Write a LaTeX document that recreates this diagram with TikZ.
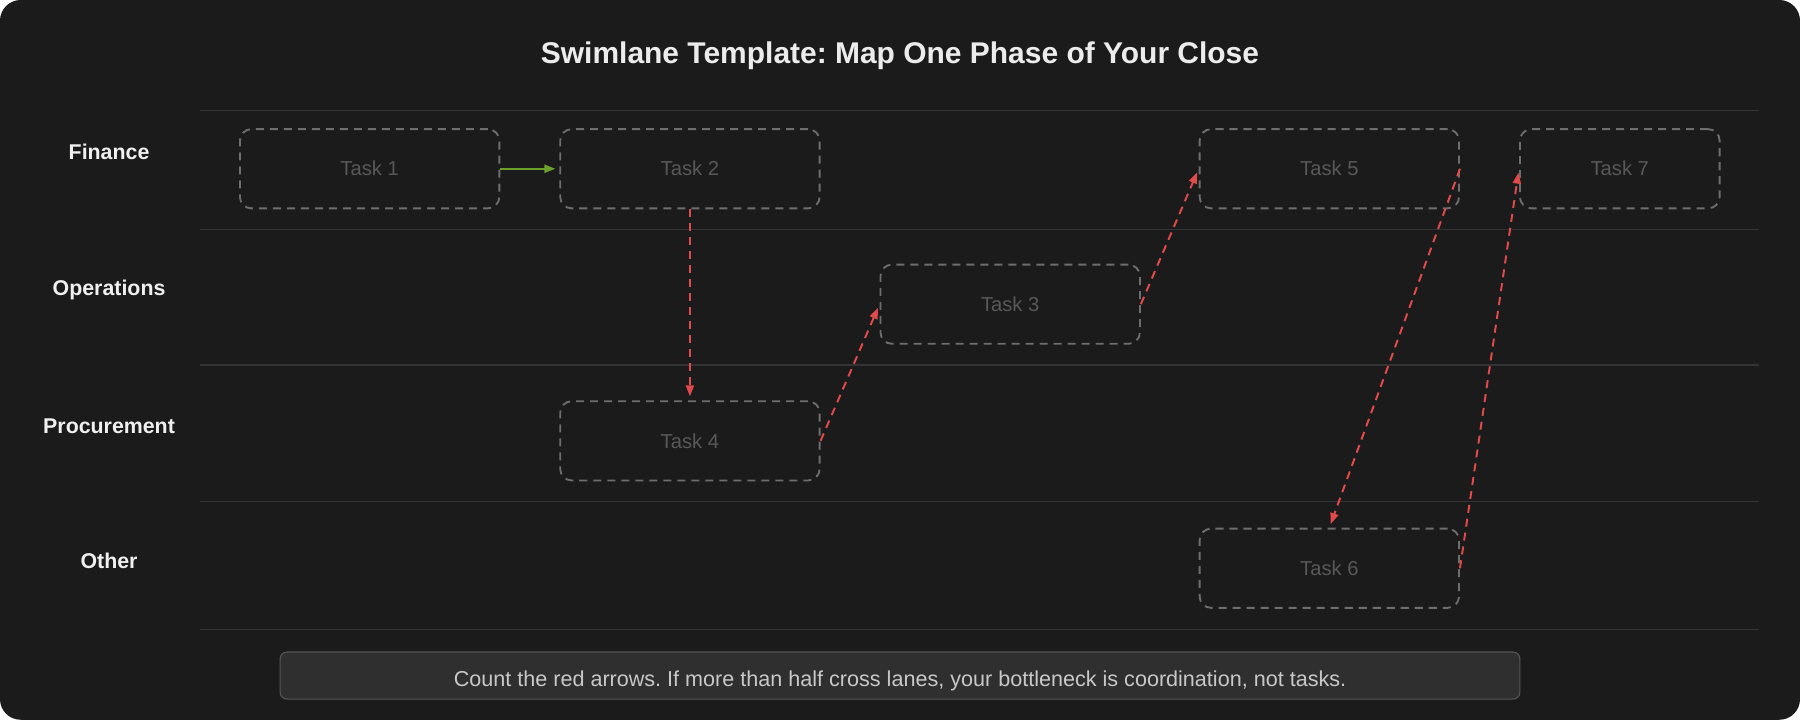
\documentclass[tikz,border=0pt]{standalone}
\usepackage{fontspec}
\setmainfont{Liberation Sans}
\usetikzlibrary{arrows.meta}
\frenchspacing
\definecolor{bg}{HTML}{1B1B1B}
\definecolor{laneline}{HTML}{333333}
\definecolor{boxline}{HTML}{6E6E6E}
\definecolor{tasktxt}{HTML}{585858}
\definecolor{labeltxt}{HTML}{F0F0F0}
\definecolor{titletxt}{HTML}{ECECEC}
\definecolor{notefill}{HTML}{2F2F2F}
\definecolor{noteline}{HTML}{555555}
\definecolor{notetxt}{HTML}{C8C8C8}
\definecolor{redarrow}{HTML}{E04A4A}
\definecolor{greenarrow}{HTML}{6AA12A}
\tikzset{
  taskbox/.style={draw=boxline, line width=0.8pt, dash pattern=on 3.5pt off 2.6pt,
    rounded corners=5pt, minimum width=113pt, minimum height=34.5pt, inner sep=0pt,
    text=tasktxt, font=\fontsize{8.8pt}{10pt}\selectfont},
  lanelabel/.style={text=labeltxt, font=\fontsize{9.3pt}{11pt}\selectfont\bfseries},
  laneline/.style={draw=laneline, line width=0.5pt},
  redflow/.style={draw=redarrow, line width=0.85pt, dash pattern=on 3.5pt off 2.6pt,
    -{Triangle[length=4.8pt,width=3.5pt]}, shorten >=1.7pt},
  greenflow/.style={draw=greenarrow, line width=0.85pt,
    -{Triangle[length=4.8pt,width=3.5pt]}, shorten >=1.7pt}
}
\begin{document}
\begin{tikzpicture}[x=0.5pt,y=-0.5pt]
\useasboundingbox (0,0) rectangle (1568,627);
\fill[white] (0,0) rectangle (1568,627);
\fill[bg, rounded corners=9pt] (0,0) rectangle (1568,627);
% title
\node[text=titletxt, font=\fontsize{13.05pt}{15pt}\selectfont\bfseries] (title) at (784,48.5) {Swimlane Template: Map One Phase of Your Close};
% lane lines
\foreach \yy/\nm in {96/l0,200/l1,318/l2,437/l3,548/l4}{
  \coordinate (\nm a) at (174,\yy);
  \coordinate (\nm b) at (1532,\yy);
  \draw[laneline] (\nm a) -- (\nm b);
}
% lane labels
\node[lanelabel] (finance) at (95,132) {Finance};
\node[lanelabel] (operations) at (95,253) {Operations};
\node[lanelabel] (procurement) at (95,371.5) {Procurement};
\node[lanelabel] (other) at (95,489) {Other};
% tasks
\node[taskbox] (t1) at (322,147) {Task 1};
\node[taskbox] (t2) at (601,147) {Task 2};
\node[taskbox] (t5) at (1158,147) {Task 5};
\node[taskbox, minimum width=87pt] (t7) at (1411,147) {Task 7};
\node[taskbox] (t3) at (880,265) {Task 3};
\node[taskbox] (t4) at (601,384) {Task 4};
\node[taskbox] (t6) at (1158,495) {Task 6};
% arrows
\draw[greenflow] (t1.east) -- (t2.west);
\draw[redflow] (t2.south) -- (t4.north);
\draw[redflow] (t4.east) -- (t3.west);
\draw[redflow] (t3.east) -- (t5.west);
\draw[redflow] (t5.east) -- (t6.north);
\draw[redflow] (t6.east) -- (t7.west);
% note
\node[draw=noteline, fill=notefill, line width=0.5pt, rounded corners=3pt,
  minimum width=540pt, minimum height=20.5pt, inner sep=0pt] (note) at (784,588.5) {};
\node[text=notetxt, font=\fontsize{9.4pt}{11pt}\selectfont, inner sep=0pt, anchor=base] (notetext) at (784,598)
  {Count the red arrows. If more than half cross lanes, your bottleneck is coordination, not tasks.};
\end{tikzpicture}
\end{document}
